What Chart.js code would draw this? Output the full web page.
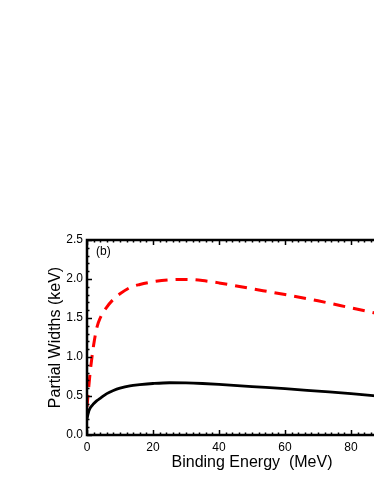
<!DOCTYPE html>
<html>
<head>
<meta charset="utf-8">
<script src="https://cdn.jsdelivr.net/npm/chart.js@4.4.1/dist/chart.umd.min.js"></script>
<style>
html,body{margin:0;padding:0;background:#fff;overflow:hidden;width:374px;height:484px;}
#wrap{width:440px;height:484px;}
</style>
</head>
<body>
<div id="wrap"><canvas id="c" width="440" height="484"></canvas></div>
<script>
const energy = [0, 0.5, 1, 2, 3, 4, 6, 8, 10, 13, 16, 20, 25, 30, 35, 40, 50, 60, 70, 80, 90];
const widthSolid = [0.21, 0.30, 0.35, 0.40, 0.44, 0.47, 0.53, 0.57, 0.60, 0.63, 0.645, 0.66, 0.67, 0.668, 0.66, 0.648, 0.62, 0.594, 0.562, 0.530, 0.49];
const widthDashed = [0.36, 0.60, 0.82, 1.15, 1.38, 1.50, 1.64, 1.74, 1.81, 1.89, 1.93, 1.965, 1.99, 1.995, 1.98, 1.95, 1.875, 1.80, 1.72, 1.63, 1.54];
const xTicks = [0, 20, 40, 60, 80, 100];
const yTicks = [0.0, 0.5, 1.0, 1.5, 2.0, 2.5];
const panelLabel = '(b)';
const xTitle = 'Binding Energy  (MeV)';
const yTitle = 'Partial Widths (keV)';

const toPts = (xs, ys) => xs.map((x, i) => ({x: x, y: ys[i]}));

const frameTicks = {
  id: 'frameTicks',
  afterDatasetsDraw(chart) {
    const {ctx, chartArea: a, scales: {x, y}} = chart;
    ctx.save();
    ctx.strokeStyle = '#000';
    ctx.lineWidth = 1.5;
    ctx.beginPath();
    for (let v = 0; v <= 100.001; v += 2) {
      const px = Math.round(x.getPixelForValue(v)) + 0.5;
      const len = (Math.round(v) % 20 === 0) ? 5 : 2.5;
      ctx.moveTo(px, a.bottom); ctx.lineTo(px, a.bottom - len);
      ctx.moveTo(px, a.top); ctx.lineTo(px, a.top + len);
    }
    for (let k = 0; k <= 25; k++) {
      const v = k / 10;
      const py = Math.round(y.getPixelForValue(v)) + 0.5;
      const len = (k % 5 === 0) ? 5 : 2.5;
      ctx.moveTo(a.left, py); ctx.lineTo(a.left + len, py);
      ctx.moveTo(a.right, py); ctx.lineTo(a.right - len, py);
    }
    ctx.stroke();
    ctx.lineWidth = 2.5;
    ctx.strokeRect(a.left, a.top, a.right - a.left, a.bottom - a.top);
    ctx.fillStyle = '#000';
    ctx.font = '12px "Liberation Sans", Arial, sans-serif';
    ctx.textBaseline = 'middle';
    ctx.fillText(panelLabel, a.left + 9, a.top + 12);
    ctx.restore();
  }
};

new Chart(document.getElementById('c'), {
  type: 'line',
  data: {
    datasets: [
      {data: toPts(energy, widthDashed), borderColor: '#ff0000', borderWidth: 3, borderDash: [12, 8], pointRadius: 0, cubicInterpolationMode: 'monotone', fill: false},
      {data: toPts(energy, widthSolid), borderColor: '#000000', borderWidth: 2.8, pointRadius: 0, cubicInterpolationMode: 'monotone', fill: false}
    ]
  },
  options: {
    responsive: false,
    animation: false,
    layout: {padding: {top: 240, right: 23, left: 0, bottom: 0}},
    plugins: {legend: {display: false}, tooltip: {enabled: false}},
    scales: {
      x: {
        type: 'linear', min: 0, max: 100,
        afterBuildTicks: s => { s.ticks = xTicks.map(v => ({value: v})); },
        afterFit: s => { s.height = 49; },
        grid: {display: false, drawTicks: false},
        border: {display: false},
        ticks: {color: '#000', padding: 5, maxRotation: 0, font: {family: '"Liberation Sans", Arial, sans-serif', size: 12}},
        title: {display: true, text: xTitle, color: '#000', font: {family: '"Liberation Sans", Arial, sans-serif', size: 16}, padding: {top: 0, bottom: 12}}
      },
      y: {
        type: 'linear', min: 0, max: 2.5,
        afterBuildTicks: s => { s.ticks = yTicks.map(v => ({value: v})); },
        afterFit: s => { s.width = 87; },
        grid: {display: false, drawTicks: false},
        border: {display: false},
        ticks: {color: '#000', padding: 4, font: {family: '"Liberation Sans", Arial, sans-serif', size: 12}, callback: v => Number(v).toFixed(1)},
        title: {display: true, text: yTitle, color: '#000', font: {family: '"Liberation Sans", Arial, sans-serif', size: 16}, padding: {top: 46, bottom: 0}}
      }
    }
  },
  plugins: [frameTicks]
});
</script>
</body>
</html>
